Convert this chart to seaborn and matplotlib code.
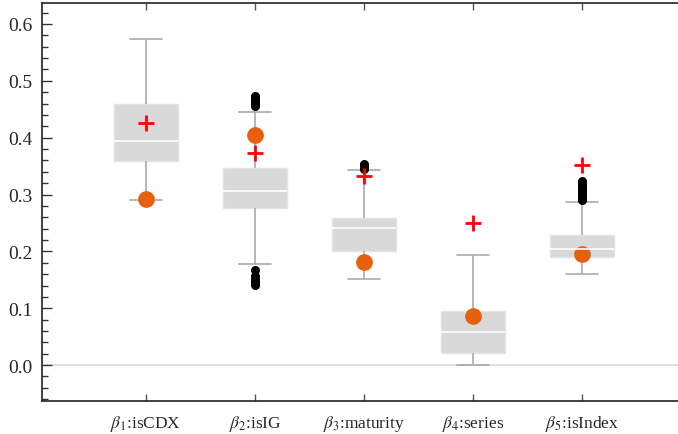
import numpy as np
import pandas as pd
import matplotlib
matplotlib.use('Agg')
import matplotlib.pyplot as plt
from matplotlib.ticker import MultipleLocator
import seaborn as sns

################################################################################

categories = [r'$\beta_1$:isCDX', r'$\beta_2$:isIG', r'$\beta_3$:maturity',
              r'$\beta_4$:series', r'$\beta_5$:isIndex']

whisker_low = [0.290, 0.177, 0.151, 0.000, 0.160]
q1 = [0.359, 0.276, 0.201, 0.021, 0.190]
median = [0.394, 0.307, 0.242, 0.0575, 0.205]
q3 = [0.460, 0.347, 0.258, 0.095, 0.229]
whisker_high = [0.574, 0.445, 0.343, 0.194, 0.286]

outliers = [
    [],
    [0.456, 0.460, 0.464, 0.468, 0.471, 0.474, 0.168, 0.156, 0.152, 0.148, 0.144, 0.141],
    [0.345, 0.348, 0.351, 0.354],
    [],
    [0.290, 0.294, 0.298, 0.302, 0.306, 0.310, 0.314, 0.318, 0.321, 0.324],
]

true_values = [0.426, 0.373, 0.333, 0.250, 0.352]
estimates = [0.293, 0.405, 0.181, 0.087, 0.195]

################################################################################

# long table whose quartiles / whiskers match the read-off summaries
rows = []
for i, cat in enumerate(categories):
    vals = [whisker_low[i]] + [q1[i]] * 40 + [median[i]] * 40 + [q3[i]] * 40 \
        + [whisker_high[i]] + outliers[i]
    rows += [(cat, v) for v in vals]
df = pd.DataFrame(rows, columns = ['coef', 'value'])

sns.set_style('white')
plt.rcParams['font.family'] = ['Liberation Serif', 'DejaVu Serif']
plt.rcParams['mathtext.fontset'] = 'stix'

fig = plt.figure(figsize = (6.78, 4.35), dpi = 100)
ax = fig.add_axes([0.062, 0.076, 0.938, 0.915])

ax.axhline(0, color = '#d9d9d9', lw = 1.2, zorder = 0)

sns.boxplot(
    data = df,
    x = 'coef',
    y = 'value',
    order = categories,
    width = 0.58,
    whis = 1.5,
    boxprops = dict(facecolor = '#d9d9d9', edgecolor = '#e4e4e4', linewidth = 1),
    medianprops = dict(color = 'white', linewidth = 1.2),
    whiskerprops = dict(color = '#aaaaaa', linewidth = 1.2),
    capprops = dict(color = '#aaaaaa', linewidth = 1.2),
    flierprops = dict(marker = 'o', markerfacecolor = 'black', markeredgecolor = 'black',
                      markersize = 5.5),
    ax = ax
)

sns.pointplot(
    x = categories,
    y = estimates,
    order = categories,
    color = '#e6600e',
    marker = 'o',
    markersize = 10,
    linestyle = 'none',
    errorbar = None,
    ax = ax
)

sns.pointplot(
    x = categories,
    y = true_values,
    order = categories,
    color = 'red',
    marker = '+',
    markersize = 11,
    markeredgewidth = 2,
    linestyle = 'none',
    errorbar = None,
    ax = ax
)

ax.set_xlim(-0.954, 4.88)
ax.set_ylim(-0.063, 0.637)
ax.set_xlabel('')
ax.set_ylabel('')

ax.yaxis.set_major_locator(MultipleLocator(0.1))
ax.yaxis.set_minor_locator(MultipleLocator(0.02))
ax.tick_params(axis = 'y', which = 'major', direction = 'in', length = 7, width = 1,
               left = True, labelsize = 14, color = '#333333', pad = 7)
ax.tick_params(axis = 'y', which = 'minor', direction = 'in', length = 4, width = 1,
               left = True, color = '#333333')
ax.tick_params(axis = 'x', which = 'major', direction = 'in', length = 5, width = 1,
               bottom = True, top = True, labelsize = 12.5, color = '#555555', pad = 9)

for side in ['left', 'bottom', 'top']:
    ax.spines[side].set_color('#222222')
    ax.spines[side].set_linewidth(1.2)
ax.spines['right'].set_visible(False)

fig.savefig('out.png', dpi = 100)
